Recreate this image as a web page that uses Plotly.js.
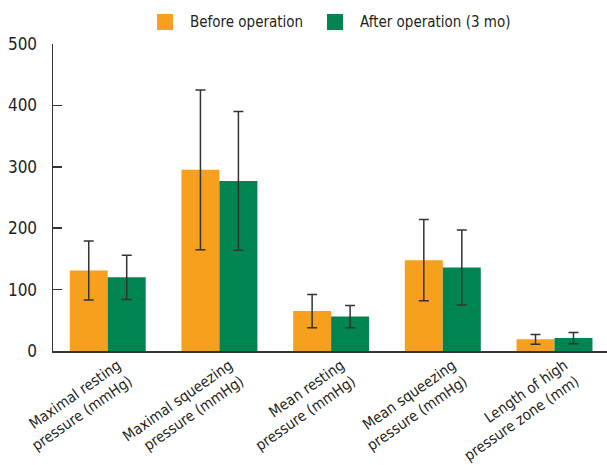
<!DOCTYPE html>
<html>
<head>
<meta charset="utf-8">
<script src="https://cdn.plot.ly/plotly-3.0.1.min.js"></script>
<style>
  html, body { margin: 0; padding: 0; background: #fff; }
  #chart { width: 607px; height: 465px; }
</style>
</head>
<body>
<div id="chart"></div>
<script>
// Anorectal manometry before and 3 months after the operation (mean ± SD)
const categories = [
  "Maximal resting<br>pressure (mmHg)",
  "Maximal squeezing<br>pressure (mmHg)",
  "Mean resting<br>pressure (mmHg)",
  "Mean squeezing<br>pressure (mmHg)",
  "Length of high<br>pressure zone (mm)"
];
const beforeMean = [131, 295, 65, 148, 19];
const beforeSD   = [48, 130, 27, 66, 8];
const afterMean  = [120, 277, 56, 136, 21];
const afterSD    = [36, 113, 18, 61, 9];
const seriesNames = ["Before operation", "After operation (3 mo)"];
const seriesColors = ["#F7A01D", "#008452"];

const FONT = "'DejaVu Sans Condensed', 'Liberation Sans', Arial, sans-serif";
const TEXT = "#231f20";

const errStyle = { type: "data", visible: true, color: "#333333", thickness: 1.5, width: 5 };

const traces = [
  {
    type: "bar", name: seriesNames[0], x: categories, y: beforeMean,
    marker: { color: seriesColors[0] },
    error_y: Object.assign({ array: beforeSD }, errStyle)
  },
  {
    type: "bar", name: seriesNames[1], x: categories, y: afterMean,
    marker: { color: seriesColors[1] },
    error_y: Object.assign({ array: afterSD }, errStyle)
  }
];

// Legend keys: square swatch + label above the plot area (paper coordinates)
const legendKeys = [
  { x0: 0.1877, x1: 0.2166, tx: 0.2437 },
  { x0: 0.4946, x1: 0.5235, tx: 0.5505 }
];
const shapes = legendKeys.map((k, i) => ({
  type: "rect", xref: "paper", yref: "paper",
  x0: k.x0, x1: k.x1, y0: 1.0456, y1: 1.0977,
  fillcolor: seriesColors[i], line: { width: 0 }
}));
const annotations = legendKeys.map((k, i) => ({
  xref: "paper", yref: "paper", x: k.tx, y: 1.0717,
  xanchor: "left", yanchor: "middle", showarrow: false,
  text: seriesNames[i], font: { family: FONT, size: 15, color: TEXT }
}));

const layout = {
  width: 607, height: 465,
  margin: { l: 53, r: 0, t: 44, b: 114 },
  paper_bgcolor: "#ffffff", plot_bgcolor: "#ffffff",
  font: { family: FONT, size: 15, color: TEXT },
  barmode: "group",
  bargap: 0.32, bargroupgap: 0,
  showlegend: false,
  shapes: shapes,
  annotations: annotations,
  xaxis: {
    type: "category", range: [-0.49, 4.47],
    showline: true, linecolor: "#333333", linewidth: 2,
    ticks: "", tickangle: -35, ticklabelshift: 10, ticklabelstandoff: -2,
    tickfont: { family: FONT, size: 15, color: TEXT },
    showgrid: false, zeroline: false, fixedrange: true
  },
  yaxis: {
    range: [0, 500], dtick: 100, tick0: 0,
    showline: true, linecolor: "#333333", linewidth: 1.5,
    ticks: "inside", ticklen: 9, tickwidth: 1.5, tickcolor: "#333333",
    tickfont: { family: FONT, size: 17, color: TEXT },
    ticklabelstandoff: 11,
    showgrid: false, zeroline: false, fixedrange: true
  }
};

Plotly.newPlot("chart", traces, layout, { staticPlot: true, displayModeBar: false });
</script>
</body>
</html>
